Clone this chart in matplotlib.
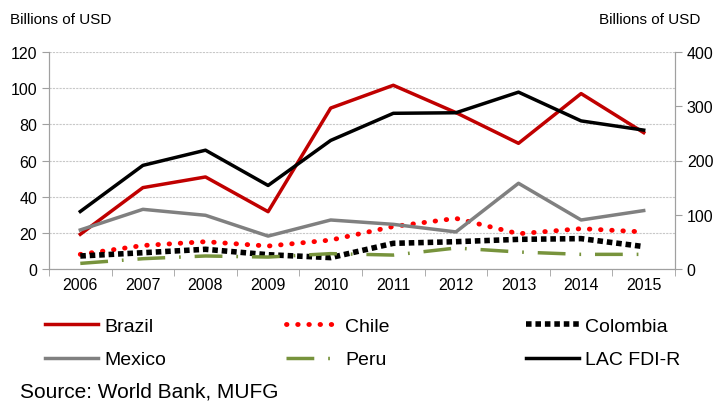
import numpy as np
import matplotlib.pyplot as plt

plt.rcParams['font.family'] = ['Liberation Sans', 'DejaVu Sans']

years = ['2006', '2007', '2008', '2009', '2010', '2011', '2012', '2013', '2014', '2015']
brazil = [19.2, 45.0, 50.9, 31.7, 89.0, 101.6, 86.5, 69.5, 97.0, 75.4]
chile = [8.1, 13.0, 15.1, 12.7, 16.0, 23.5, 28.0, 19.5, 22.3, 20.5]
colombia = [7.2, 9.0, 10.9, 7.9, 6.3, 14.2, 15.1, 16.4, 16.8, 12.4]
mexico = [21.6, 33.0, 29.7, 18.2, 27.1, 24.7, 20.5, 47.4, 27.1, 32.3]
peru = [3.1, 5.7, 7.2, 6.6, 8.5, 7.7, 11.6, 9.4, 8.1, 8.1]
lac = [106, 191, 219, 154, 237, 287, 288, 326, 273, 256]  # right axis

fig = plt.figure(figsize=(7.18, 4.02), dpi=100)
ax = fig.add_axes([49/718, 1-270/402, (675-49)/718, (270-53)/402])
ax2 = ax.twinx()

x = np.arange(len(years))
ax.plot(x, brazil, color='#C00000', lw=2.5, label='Brazil')
ax.plot(x, chile, color='#FF0000', lw=3.5, linestyle=(0, (0.1, 2.2)),
        dash_capstyle='round', label='Chile')
ax.plot(x, colombia, color='black', lw=4, linestyle=(0, (1, 0.7)), label='Colombia')
ax.plot(x, mexico, color='#808080', lw=2.5, label='Mexico')
ax.plot(x, peru, color='#77933C', lw=2.5, linestyle=(0, (8, 4, 0.5, 4)), label='Peru')
ax2.plot(x, lac, color='black', lw=2.5, label='LAC FDI-R')

ax.set_xlim(-0.5, len(years) - 0.5)
ax.set_ylim(0, 120)
ax2.set_ylim(0, 400)
ax.set_yticks(range(0, 121, 20))
ax2.set_yticks(range(0, 401, 100))
ax.set_xticks(x)
ax.set_xticklabels(years)
ax.set_xticks(np.arange(-0.5, len(years)), minor=True)
ax.tick_params(axis='x', which='major', length=0, labelsize=11.5, pad=6)
ax.tick_params(axis='x', which='minor', length=5, color='#A0A0A0')
ax.tick_params(axis='y', length=5, color='#A0A0A0', labelsize=11.5)
ax2.tick_params(axis='y', length=5, color='#A0A0A0', labelsize=11.5)
ax.grid(axis='y', color='#C8C8C8', linestyle=(0, (2, 1)), lw=0.8)
ax.set_axisbelow(True)
for a in (ax, ax2):
    a.spines['top'].set_visible(False)
    for s in ('left', 'right', 'bottom'):
        a.spines[s].set_color('#A0A0A0')

fig.text(10/718, 1-20/402, 'Billions of USD', fontsize=11, va='center', ha='left')
fig.text(700/718, 1-20/402, 'Billions of USD', fontsize=11, va='center', ha='right')

h1, l1 = ax.get_legend_handles_labels()
h2, l2 = ax2.get_legend_handles_labels()
handles = dict(zip(l1 + l2, h1 + h2))
columns = [(['Brazil', 'Mexico'], 45), (['Chile', 'Peru'], 286), (['Colombia', 'LAC FDI-R'], 526)]
for names, x0 in columns:
    fig.legend([handles[k] for k in names], names, frameon=False,
               loc='center left', bbox_to_anchor=(x0/718, 1-344/402),
               borderpad=0, borderaxespad=0, fontsize=14,
               handlelength=2.75, handletextpad=0.3, labelspacing=0.8)

fig.text(20/718, 1-392/402, 'Source: World Bank, MUFG', fontsize=15, va='center', ha='left')

fig.savefig('out.png', dpi=100)
